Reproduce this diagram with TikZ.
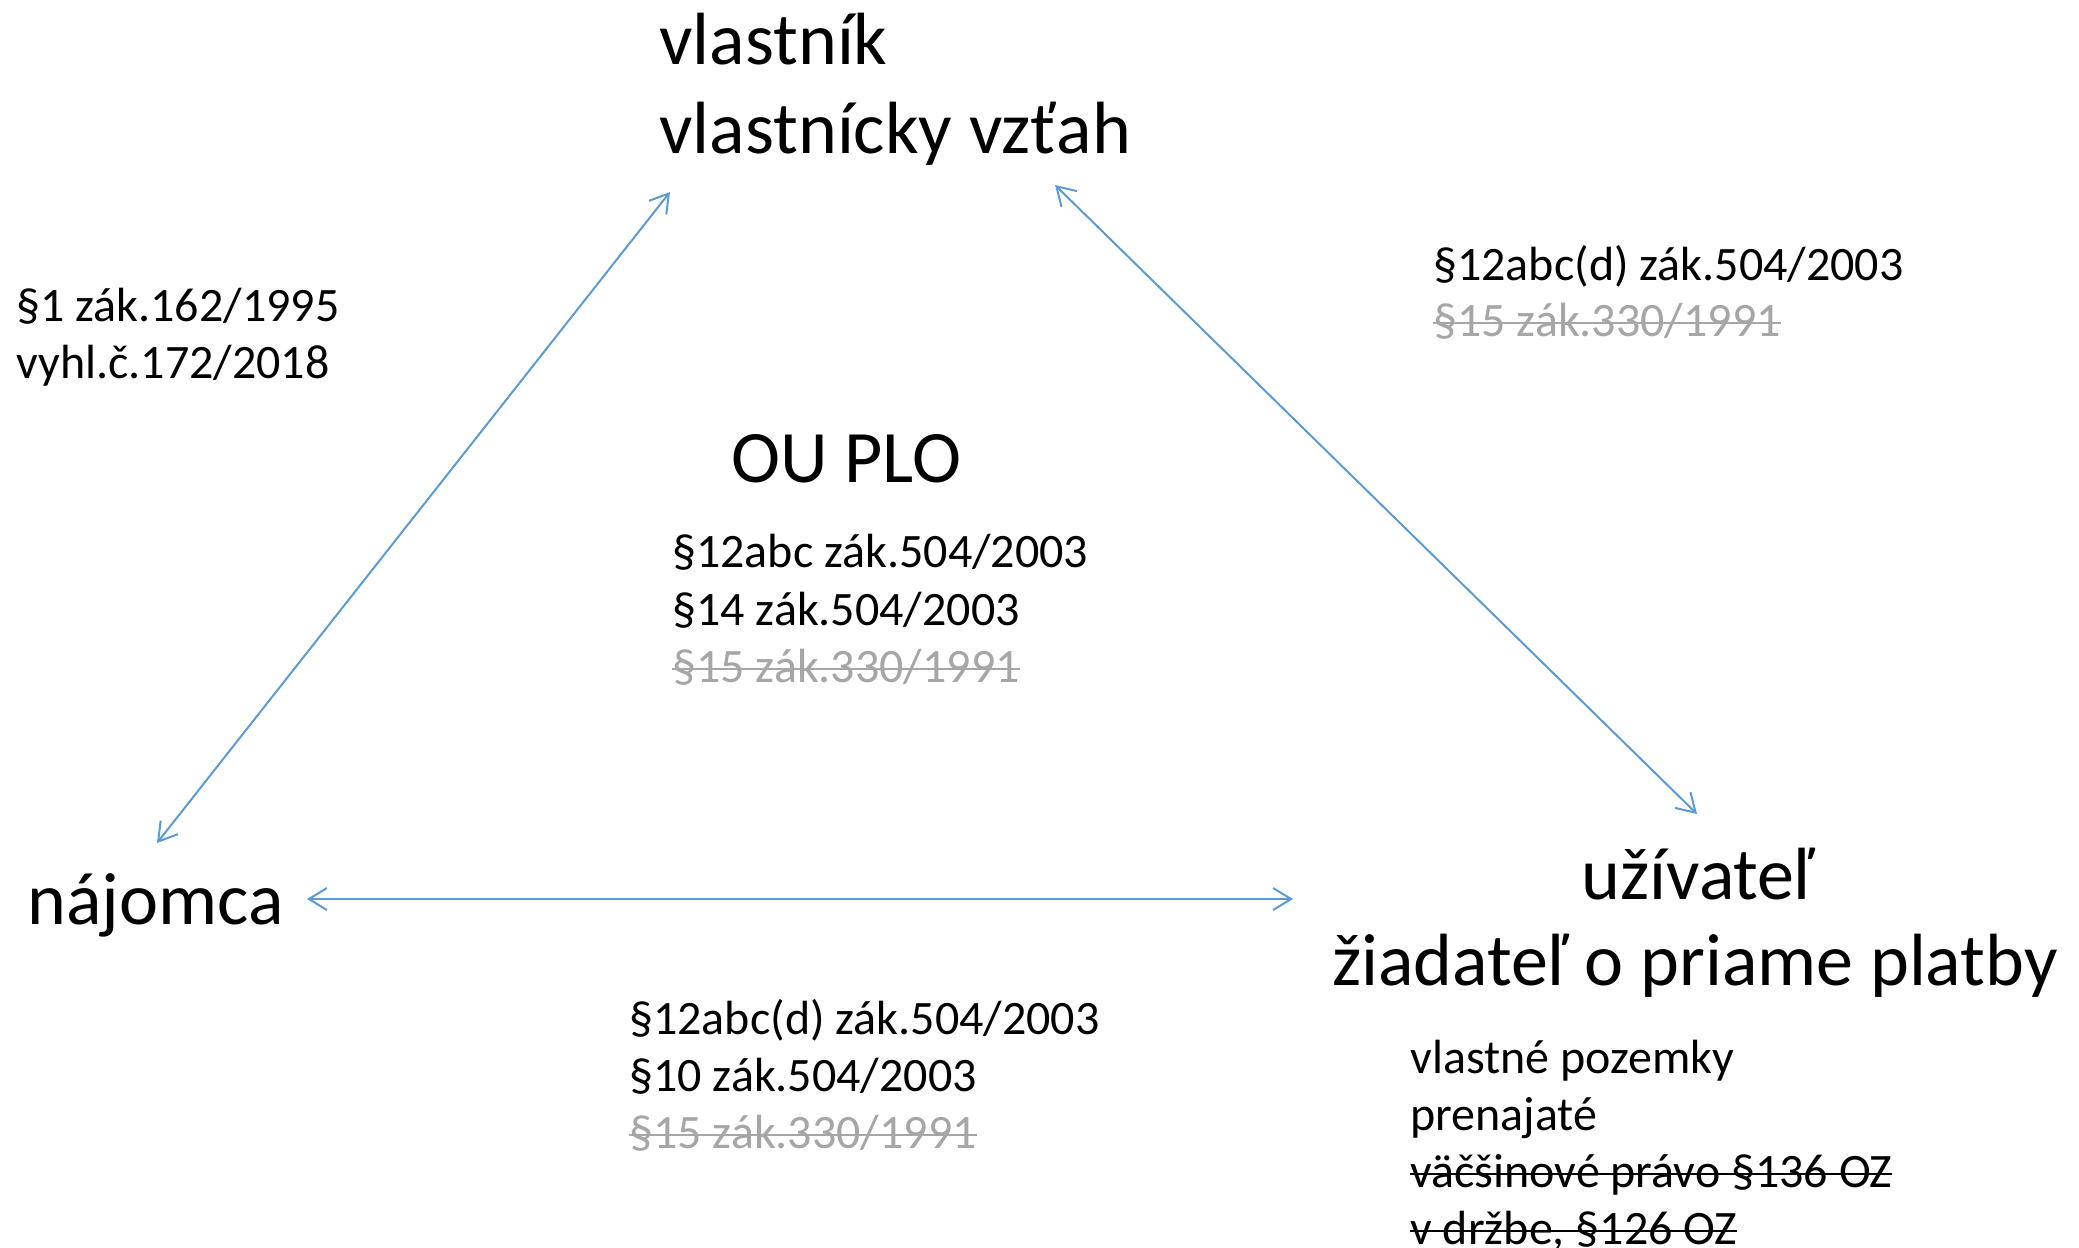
\documentclass[tikz,border=0pt]{standalone}
\usepackage{fontspec}
\setmainfont{Carlito}
\usetikzlibrary{arrows.meta}
\definecolor{arrowblue}{HTML}{5B9BD5}
\definecolor{oldgray}{HTML}{A6A6A6}
\newcommand\xstrike[1]{\setbox0\hbox{#1}\rlap{\rule[0.24em]{\wd0}{0.055em}}\box0}
\tikzset{
  big/.style={font=\fontsize{37}{44}\selectfont, inner sep=0pt, anchor=base west},
  bigc/.style={big, anchor=base},
  small/.style={font=\fontsize{24}{29}\selectfont, inner sep=0pt, anchor=base west},
  old/.style={small, text=oldgray},
  link/.style={draw=arrowblue, line width=1pt,
    {Straight Barb[length=9pt,width=11pt]}-{Straight Barb[length=9pt,width=11pt]}}
}
\begin{document}
\begin{tikzpicture}[x=0.5pt,y=-0.5pt]
\useasboundingbox (0,0) rectangle (2079,1248);
% main actors
\node[big] (v1) at (659,64) {vlastník};
\node[big] (v2) at (659,153) {vlastnícky vzťah};
\node[big] (ou) at (731,482) {OU PLO};
\node[big] (naj) at (27,924) {nájomca};
\node[bigc] (u1) at (1698,899) {užívateľ};
\node[bigc] (u2) at (1695,985) {žiadateľ o priame platby};
% left label
\node[small] (l1) at (16,321) {§1 zák.162/1995};
\node[small] (l2) at (16,378) {vyhl.č.172/2018};
% upper right label
\node[small] (r1) at (1433,280) {§12abc(d) zák.504/2003};
\node[old] (r2) at (1433,336) {\xstrike{§15 zák.330/1991}};
% centre label
\node[small] (c1) at (672,567) {§12abc zák.504/2003};
\node[small] (c2) at (672,625) {§14 zák.504/2003};
\node[old] (c3) at (672,682) {\xstrike{§15 zák.330/1991}};
% bottom centre label
\node[small] (b1) at (629,1034) {§12abc(d) zák.504/2003};
\node[small] (b2) at (629,1091) {§10 zák.504/2003};
\node[old] (b3) at (629,1148) {\xstrike{§15 zák.330/1991}};
% bottom right list
\node[small] (p1) at (1410,1073) {vlastné pozemky};
\node[small] (p2) at (1410,1130) {prenajaté};
\node[small] (p3) at (1410,1187) {\xstrike{väčšinové právo §136 OZ}};
\node[small] (p4) at (1410,1244) {\xstrike{v držbe, §126 OZ}};
% connectors
\coordinate (nA) at (157,843);
\coordinate (vA) at (670,192);
\coordinate (vB) at (1055,185);
\coordinate (uB) at (1697,814);
\coordinate (nC) at (307,899);
\coordinate (uC) at (1293,899);
\draw[link] (nA) -- (vA);
\draw[link] (vB) -- (uB);
\draw[link] (nC) -- (uC);
\end{tikzpicture}
\end{document}
